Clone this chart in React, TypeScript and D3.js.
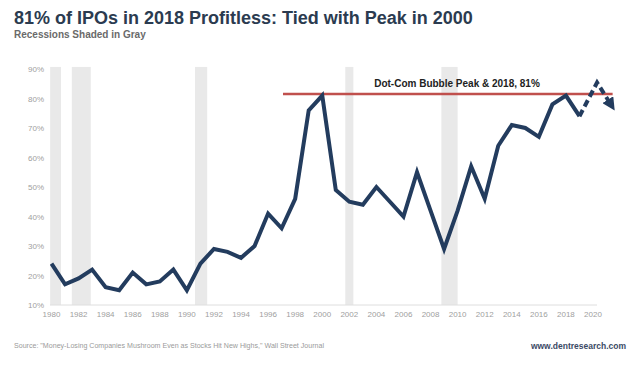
import React from "react";
import * as d3 from "d3";

const years = d3.range(1980, 2020);
const values = [24, 17, 19, 22, 16, 15, 21, 17, 18, 22, 15, 24, 29, 28, 26, 30, 41, 36, 46, 76, 81, 49, 45, 44, 50, 45, 40, 55, 42, 29, 42, 57, 46, 64, 71, 70, 67, 78, 81, 74];
const projYears = [2019, 2020.3, 2021.4];
const projValues = [74, 85.4, 77.4];
const recessionStarts = [1979.9, 1981.5, 1990.6, 2001.7, 2008.8];
const recessionEnds = [1980.7, 1982.9, 1991.5, 2002.3, 2010.0];
const yTicks = [10, 20, 30, 40, 50, 60, 70, 80, 90];
const xTicks = d3.range(1980, 2021, 2);
const peakValue = 81.5;
const peakStart = 1997.1;
const peakEnd = 2021.45;

const W = 636;
const H = 376;
const FONT = "'Liberation Sans', Arial, Helvetica, sans-serif";
const NAVY = "#233c5e";

export default function App() {
  const x = d3.scaleLinear().domain([1980, 2020]).range([51.5, 593]);
  const y = d3.scaleLinear().domain([10, 90]).range([305, 69]);

  const line = d3
    .line<number>()
    .x((_, i) => x(years[i]))
    .y((d) => y(d));
  const projLine = d3
    .line<number>()
    .x((_, i) => x(projYears[i]))
    .y((d) => y(d));

  return (
    <svg
      width={W}
      height={H}
      style={{ position: "absolute", left: 0, top: 0, background: "#fff" }}
      fontFamily={FONT}
    >
      <defs>
        <marker
          id="arrow"
          viewBox="0 0 10 10"
          refX="6"
          refY="5"
          markerWidth="3.2"
          markerHeight="3.2"
          orient="auto"
          markerUnits="strokeWidth"
        >
          <path d="M0,0 L10,5 L0,10 z" fill={NAVY} />
        </marker>
      </defs>
      <rect x={0} y={0} width={W} height={H} fill="#fff" />
      <text x={14} y={24} fontSize={18} fontWeight="bold" fill="#2b3b50">
        81% of IPOs in 2018 Profitless: Tied with Peak in 2000
      </text>
      <text x={14} y={38} fontSize={10} fontWeight="bold" fill="#6a6a6a">
        Recessions Shaded in Gray
      </text>

      {recessionStarts.map((s, i) => (
        <rect
          key={i}
          x={x(s)}
          y={y(90.7)}
          width={x(recessionEnds[i]) - x(s)}
          height={y(10) - y(90.7)}
          fill="#e9e9e9"
        />
      ))}

      <line x1={50} x2={597} y1={y(10)} y2={y(10)} stroke="#dedede" strokeWidth={1} />

      {yTicks.map((t) => (
        <text key={t} x={44} y={y(t) + 3} fontSize={8} fill="#a0a0a0" textAnchor="end">
          {t}%
        </text>
      ))}
      {xTicks.map((t) => (
        <text key={t} x={x(t)} y={317} fontSize={8} fill="#a0a0a0" textAnchor="middle">
          {t}
        </text>
      ))}

      <line
        x1={x(peakStart)}
        x2={x(peakEnd)}
        y1={y(peakValue)}
        y2={y(peakValue)}
        stroke="#c0504d"
        strokeWidth={2.5}
      />
      <text x={457} y={87} fontSize={10} fontWeight="bold" fill="#222" textAnchor="middle">
        Dot-Com Bubble Peak &amp; 2018, 81%
      </text>

      <path
        d={line(values) || ""}
        fill="none"
        stroke={NAVY}
        strokeWidth={4}
        strokeLinejoin="miter"
        strokeLinecap="butt"
      />
      <path
        d={projLine(projValues) || ""}
        fill="none"
        stroke={NAVY}
        strokeWidth={4}
        strokeDasharray="7,4"
        markerEnd="url(#arrow)"
      />

      <text x={14} y={348} fontSize={7} fill="#9a9a9a" textLength={310} lengthAdjust="spacingAndGlyphs">
        Source: "Money-Losing Companies Mushroom Even as Stocks Hit New Highs," Wall Street Journal
      </text>
      <text x={626} y={349} fontSize={8.5} fontWeight="bold" fill="#3b4a66" textAnchor="end">
        www.dentresearch.com
      </text>
    </svg>
  );
}
